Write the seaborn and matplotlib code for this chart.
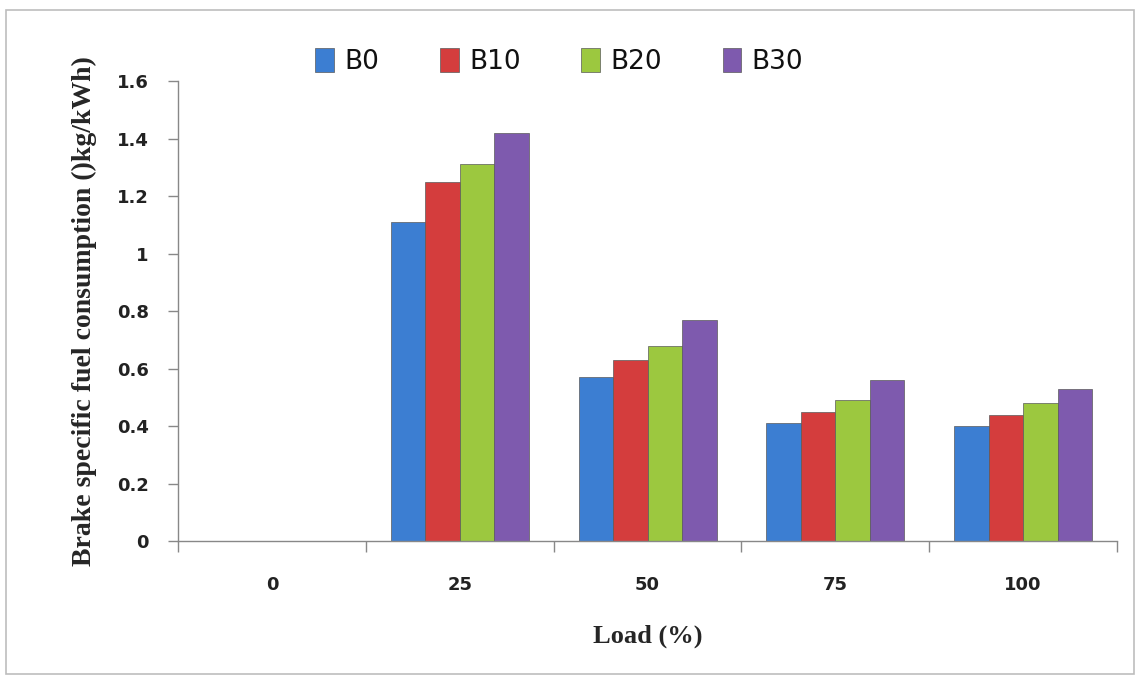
import matplotlib
matplotlib.use("Agg")
import matplotlib.pyplot as plt
import seaborn as sns
import pandas as pd
from matplotlib.patches import Rectangle
from matplotlib.ticker import FixedLocator

loads = ["0", "25", "50", "75", "100"]
series = ["B0", "B10", "B20", "B30"]
b0 = [0.0, 1.11, 0.57, 0.41, 0.40]
b10 = [0.0, 1.25, 0.63, 0.45, 0.44]
b20 = [0.0, 1.31, 0.68, 0.49, 0.48]
b30 = [0.0, 1.42, 0.77, 0.56, 0.53]
colors = ["#3C7ED2", "#D43D3D", "#9CC83F", "#7E5AAE"]
yticks = [0, 0.2, 0.4, 0.6, 0.8, 1, 1.2, 1.4, 1.6]
ytick_labels = ["0", "0.2", "0.4", "0.6", "0.8", "1", "1.2", "1.4", "1.6"]

rows = []
for name, vals in zip(series, [b0, b10, b20, b30]):
    for l, v in zip(loads, vals):
        rows.append({"Load": l, "Blend": name, "BSFC": v})
df = pd.DataFrame(rows)

sns.set_style("white")
plt.rcParams["font.family"] = ["DejaVu Sans"]

fig = plt.figure(figsize=(11.37, 6.79), dpi=100)
fig.patches.append(Rectangle((0.005, 0.008), 0.992, 0.977, transform=fig.transFigure,
                             fill=False, edgecolor="#BDBDBD", linewidth=1.2))
ax = fig.add_axes([0.1566, 0.2032, 0.8258, 0.6775])

sns.barplot(data=df, x="Load", y="BSFC", hue="Blend", order=loads, hue_order=series,
            palette=colors, width=0.735, gap=0, edgecolor="#5a5a5a", linewidth=0.5,
            saturation=1, ax=ax, legend=True, errorbar=None)

ax.set_ylim(0, 1.6)
ax.set_xlim(-0.5, 4.5)
ax.set_yticks(yticks)
ax.set_yticklabels(ytick_labels, fontsize=13, fontweight="bold", color="#222222")
ax.tick_params(axis="y", length=7, width=1, color="#888888", direction="out", pad=14, left=True)
ax.tick_params(axis="x", which="major", length=0, pad=25, labelsize=13)
for lab in ax.get_xticklabels():
    lab.set_fontweight("bold")
    lab.set_color("#222222")
ax.xaxis.set_minor_locator(FixedLocator([-0.5, 0.5, 1.5, 2.5, 3.5, 4.5]))
ax.tick_params(axis="x", which="minor", length=8, width=1, color="#888888", direction="out", bottom=True)

for s in ["top", "right"]:
    ax.spines[s].set_visible(False)
for s in ["left", "bottom"]:
    ax.spines[s].set_color("#888888")
    ax.spines[s].set_linewidth(1)

ax.set_xlabel("Load (%)", fontsize=19, fontweight="bold", family="Liberation Serif", labelpad=22)
ax.set_ylabel("Brake specific fuel consumption ()kg/kWh)", fontsize=20, fontweight="bold",
              family="Liberation Serif", labelpad=14)

ax.get_legend().remove()
handles = [Rectangle((0, 0), 1, 1, facecolor=c, edgecolor="#5a5a5a", linewidth=0.5) for c in colors]
fig.legend(handles, series, loc="center", bbox_to_anchor=(0.492, 0.909), ncol=4, frameon=False,
           fontsize=19, handlelength=0.7, handleheight=1.0, handletextpad=0.4, columnspacing=2.3,
           labelcolor="#111111")

fig.savefig("out.png", dpi=100)
